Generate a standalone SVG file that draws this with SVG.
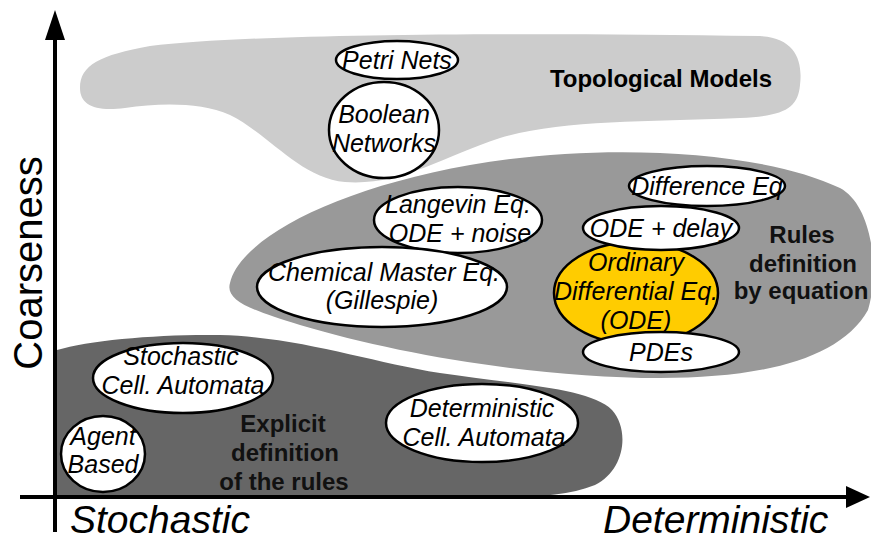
<svg xmlns="http://www.w3.org/2000/svg" width="871" height="540" viewBox="0 0 871 540">
  <defs>
    <style>
      .node { fill: #fff; stroke: #000; stroke-width: 2.5; }
      .ode { fill: #ffcc00; stroke: #000; stroke-width: 2.5; }
      .lbl { font-family: "Liberation Sans", Arial, sans-serif; font-style: italic; font-size: 25px; fill: #000; text-anchor: middle; }
      .grp { font-family: "Liberation Sans", Arial, sans-serif; font-weight: bold; font-size: 24px; fill: #111; text-anchor: middle; }
      .axis-lbl { font-family: "Liberation Sans", Arial, sans-serif; font-style: italic; font-size: 39px; fill: #000; }
      .axis { stroke: #000; stroke-width: 4; fill: none; }
    </style>
  </defs>

  <!-- category regions -->
  <g id="regions">
    <path id="topological" d="M 80,88 C 80,65 100,55 150,46 C 250,34 500,32 760,36 C 795,38 803,60 800,85 C 798,108 785,116 740,118 C 640,122 560,120 500,138 C 440,158 400,186 345,182 C 300,178 270,135 230,115 C 200,102 160,103 125,108 C 95,112 80,105 80,88 Z" fill="#cccccc"/>
    <path id="equations" d="M 230,283 C 240,240 330,190 470,165 C 600,142 760,150 840,188 C 872,205 880,270 868,310 C 840,360 760,378 660,378 C 540,378 400,355 300,325 C 250,310 225,300 230,283 Z" fill="#999999"/>
    <path id="explicit" d="M 57,497 L 57,350 C 90,340 160,334 220,335 C 300,337 370,362 440,373 C 520,385 590,388 612,410 C 630,430 625,470 595,485 C 570,495 540,497 505,497 Z" fill="#666666"/>
  </g>

  <!-- axes -->
  <g id="connectors">
    <line class="axis" x1="55" y1="532" x2="55" y2="36"/>
    <path d="M 45,40 L 55,10 L 65,40 Z" fill="#000"/>
    <line class="axis" x1="20" y1="497" x2="848" y2="497"/>
    <path d="M 846,486 L 870,497 L 846,508 Z" fill="#000"/>
  </g>

  <text class="axis-lbl" transform="translate(42,263) rotate(-90)" text-anchor="middle" style="font-style:normal;font-size:40px">Coarseness</text>
  <text class="axis-lbl" x="70" y="533">Stochastic</text>
  <text class="axis-lbl" x="603" y="533">Deterministic</text>

  <!-- region captions -->
  <text class="grp" x="661" y="87" style="fill:#000">Topological Models</text>
  <text class="grp" x="802" y="243">Rules</text>
  <text class="grp" x="803" y="272">definition</text>
  <text class="grp" x="801" y="299">by equation</text>
  <text class="grp" x="283" y="432">Explicit</text>
  <text class="grp" x="285" y="461">definition</text>
  <text class="grp" x="284" y="490">of the rules</text>

  <!-- model nodes -->
  <g id="petri-nets">
    <ellipse class="node" cx="397" cy="60" rx="61" ry="19"/>
    <text class="lbl" x="397" y="69">Petri Nets</text>
  </g>
  <g id="boolean-networks">
    <ellipse class="node" cx="384" cy="130" rx="55" ry="48"/>
    <text class="lbl" x="384" y="123">Boolean</text>
    <text class="lbl" x="384" y="152">Networks</text>
  </g>
  <g id="langevin">
    <ellipse class="node" cx="458" cy="220" rx="84" ry="33"/>
    <text class="lbl" x="458" y="213">Langevin Eq.</text>
    <text class="lbl" x="460" y="242">ODE + noise</text>
  </g>
  <g id="chemical-master">
    <ellipse class="node" cx="382" cy="287" rx="125" ry="40"/>
    <text class="lbl" x="384" y="281">Chemical Master Eq.</text>
    <text class="lbl" x="382" y="309">(Gillespie)</text>
  </g>
  <g id="difference-eq">
    <ellipse class="node" cx="707" cy="186" rx="78" ry="20"/>
    <text class="lbl" x="707" y="195">Difference Eq</text>
  </g>
  <g id="ode">
    <ellipse class="ode" cx="636" cy="293" rx="82" ry="51"/>
    <text class="lbl" x="636" y="271">Ordinary</text>
    <text class="lbl" x="636" y="300">Differential Eq.</text>
    <text class="lbl" x="636" y="329">(ODE)</text>
  </g>
  <g id="ode-delay">
    <ellipse class="node" cx="661" cy="228" rx="78" ry="22"/>
    <text class="lbl" x="661" y="237">ODE + delay</text>
  </g>
  <g id="pdes">
    <ellipse class="node" cx="661" cy="352" rx="78" ry="20"/>
    <text class="lbl" x="661" y="361">PDEs</text>
  </g>
  <g id="stochastic-ca">
    <ellipse class="node" cx="183" cy="378" rx="90" ry="35"/>
    <text class="lbl" x="181" y="365">Stochastic</text>
    <text class="lbl" x="183" y="394">Cell. Automata</text>
  </g>
  <g id="agent-based">
    <ellipse class="node" cx="103" cy="454" rx="42" ry="38"/>
    <text class="lbl" x="103" y="445">Agent</text>
    <text class="lbl" x="103" y="473">Based</text>
  </g>
  <g id="deterministic-ca">
    <ellipse class="node" cx="482" cy="423" rx="96" ry="39"/>
    <text class="lbl" x="482" y="417">Deterministic</text>
    <text class="lbl" x="484" y="446">Cell. Automata</text>
  </g>
</svg>
